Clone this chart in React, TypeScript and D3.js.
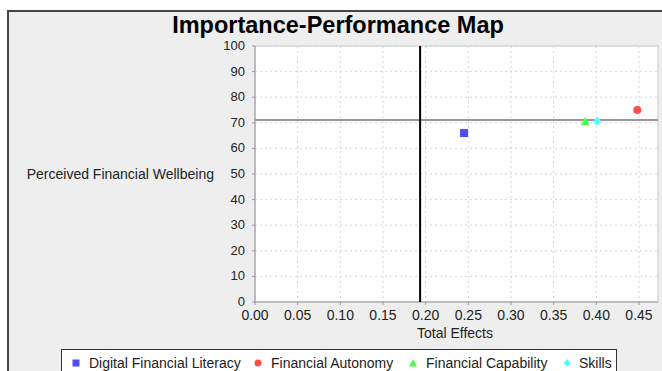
import React from "react";
import * as d3 from "d3";

const categories = ["Digital Financial Literacy", "Financial Autonomy", "Financial Capability", "Skills"];
const totalEffects = [0.245, 0.448, 0.387, 0.401];
const performance = [66.0, 75.0, 70.6, 70.6];
const colors = ["#4d4dff", "#ff4d4d", "#4dff4d", "#4dffff"];
const shapes = ["square", "circle", "triangle", "diamond"];
const xTicks = [0, 0.05, 0.1, 0.15, 0.2, 0.25, 0.3, 0.35, 0.4, 0.45];
const yTicks = [0, 10, 20, 30, 40, 50, 60, 70, 80, 90, 100];
const meanImportance = 0.1935;
const meanPerformance = 71.1;

const W = 662, H = 371;
const left = 255, right = 658, top = 46, bottom = 302;
const FONT = "'Liberation Sans', Arial, sans-serif";

function Marker({ shape, x, y, color, s }: { shape: string; x: number; y: number; color: string; s: number }) {
  if (shape === "square") return <rect x={x - s} y={y - s} width={2 * s} height={2 * s} fill={color} />;
  if (shape === "circle") return <circle cx={x} cy={y} r={s} fill={color} />;
  if (shape === "triangle")
    return <path d={`M${x},${y - s - 0.5}L${x + s + 0.5},${y + s}L${x - s - 0.5},${y + s}Z`} fill={color} />;
  return <path d={`M${x},${y - s - 0.5}L${x + s},${y}L${x},${y + s + 0.5}L${x - s},${y}Z`} fill={color} />;
}

export default function App() {
  const x = d3.scaleLinear().domain([0, 0.4723]).range([left, right]);
  const y = d3.scaleLinear().domain([0, 100]).range([bottom, top]);

  const legendItems = [
    { x: 76, tx: 89 },
    { x: 258, tx: 271 },
    { x: 413, tx: 426 },
    { x: 567, tx: 579 },
  ];

  return (
    <svg width={W} height={H} style={{ position: "absolute", left: 0, top: 0, background: "#fff" }}>
      <rect x={8} y={11} width={W} height={H} fill="#eeeeee" stroke="#444" strokeWidth={2} />
      <text x={338} y={33} textAnchor="middle" fontFamily={FONT} fontWeight="bold" fontSize={23.5} fill="#000">
        Importance-Performance Map
      </text>
      <rect x={left} y={top} width={right - left} height={bottom - top} fill="#fff" stroke="#c8c8c8" />
      {xTicks.slice(1).map((t) => (
        <line key={"gx" + t} x1={x(t)} x2={x(t)} y1={top} y2={bottom} stroke="#d4d4d4" strokeDasharray="2,3" />
      ))}
      {yTicks.slice(1).map((t) => (
        <line key={"gy" + t} x1={left} x2={right} y1={y(t)} y2={y(t)} stroke="#d4d4d4" strokeDasharray="2,3" />
      ))}
      <line x1={left} x2={left} y1={top} y2={bottom} stroke="#999" />
      <line x1={left} x2={right} y1={bottom} y2={bottom} stroke="#999" />
      {yTicks.map((t) => (
        <g key={"yt" + t}>
          <line x1={left - 3} x2={left} y1={y(t)} y2={y(t)} stroke="#999" />
          <text x={left - 10} y={y(t) + 4} textAnchor="end" fontFamily={FONT} fontSize={13} fill="#222">
            {t}
          </text>
        </g>
      ))}
      {xTicks.map((t) => (
        <g key={"xt" + t}>
          <line x1={x(t)} x2={x(t)} y1={bottom} y2={bottom + 3} stroke="#999" />
          <text x={x(t)} y={bottom + 18} textAnchor="middle" fontFamily={FONT} fontSize={14} fill="#222">
            {d3.format(".2f")(t)}
          </text>
        </g>
      ))}
      <line x1={left} x2={right} y1={y(meanPerformance)} y2={y(meanPerformance)} stroke="#999" strokeWidth={2} />
      <line x1={x(meanImportance)} x2={x(meanImportance)} y1={top} y2={bottom} stroke="#000" strokeWidth={2} />
      {categories.map((c, i) => (
        <Marker key={c} shape={shapes[i]} x={x(totalEffects[i])} y={y(performance[i])} color={colors[i]} s={4} />
      ))}
      <text x={455} y={338} textAnchor="middle" fontFamily={FONT} fontSize={14} fill="#222">
        Total Effects
      </text>
      <text x={214} y={179} textAnchor="end" fontFamily={FONT} fontSize={14} fill="#222">
        Perceived Financial Wellbeing
      </text>
      <rect x={61.5} y={349.5} width={555} height={30} fill="#fff" stroke="#333" />
      {categories.map((c, i) => (
        <g key={"lg" + c}>
          <Marker shape={shapes[i]} x={legendItems[i].x} y={363} color={colors[i]} s={3.5} />
          <text x={legendItems[i].tx} y={368} fontFamily={FONT} fontSize={14} fill="#222">
            {c}
          </text>
        </g>
      ))}
    </svg>
  );
}
